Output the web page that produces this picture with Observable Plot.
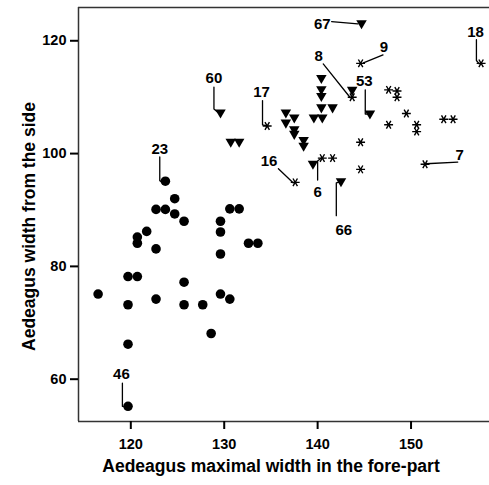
<!DOCTYPE html>
<html><head><meta charset="utf-8">
<script src="https://cdn.jsdelivr.net/npm/d3@7"></script>
<script src="https://cdn.jsdelivr.net/npm/@observablehq/plot@0.6"></script>
<style>body{margin:0;background:#fff}</style>
</head><body><div id="chart"></div>
<script>
// Group 1 (filled circles)
const circleX = [116.5,119.7,120.7,119.7,119.7,119.7,120.7,120.7,121.7,122.7,123.7,123.7,124.7,124.7,125.7,122.7,122.7,125.7,125.7,127.7,128.6,129.6,129.6,129.6,129.6,130.6,130.6,131.6,132.6,133.6];
const circleY = [75.1,78.2,78.2,73.2,66.2,55.2,85.2,84.1,86.2,90.1,90.1,95.1,92.0,89.3,88.0,83.1,74.2,77.2,73.2,73.2,68.1,88.0,86.1,82.2,75.1,74.2,90.2,90.2,84.1,84.1];
// Group 2 (down triangles)
const triX = [144.7,140.4,140.4,140.4,143.7,140.4,141.6,139.6,140.5,136.6,137.5,136.6,137.5,137.5,138.5,138.5,145.6,139.5,142.5,129.6,130.7,131.6];
const triY = [123.1,113.4,111.4,110.2,111.3,108.2,108.2,106.4,106.4,107.3,106.4,105.5,104.3,103.5,102.4,101.4,107.1,98.2,95.1,107.3,102.1,102.1];
// Group 3 (asterisks)
const astX = [144.6,143.7,157.5,147.6,148.5,148.5,149.5,147.6,150.6,150.6,153.5,154.5,134.6,144.6,144.6,151.5,137.6,140.5,141.6];
const astY = [116.0,110.0,116.0,111.3,111.1,110.0,107.1,105.1,105.1,103.9,106.1,106.1,104.9,102.0,97.2,98.1,94.9,99.2,99.2];
// Specimen labels (text placement in data units) and leader lines
const labelText = ["67","9","8","53","18","17","16","6","7","66","60","23","46"];
const labelX = [140.5,147.1,140.1,145.0,156.9,134.0,134.8,140.0,155.2,142.8,128.9,123.1,119.0];
const labelY = [123.0,118.8,117.3,112.9,121.6,110.8,98.7,93.2,99.8,86.5,113.4,100.8,60.9];
const leaderLines = [
  [[141.5,123.4],[144.3,123.0]],
  [[147.0,117.5],[144.9,116.1]],
  [[140.6,115.9],[143.5,109.9]],
  [[145.1,111.3],[145.1,107.0],[145.6,107.0]],
  [[157.0,120.2],[157.0,116.5],[157.3,115.9]],
  [[134.1,109.4],[134.1,105.1],[134.6,104.9]],
  [[135.8,97.3],[137.4,94.8]],
  [[140.0,95.3],[140.0,98.7],[140.4,99.2]],
  [[155.0,98.5],[151.6,98.2]],
  [[142.0,89.0],[142.0,94.8],[142.4,95.0]],
  [[128.9,111.8],[128.9,107.9],[129.4,107.2]],
  [[123.1,99.4],[123.1,95.2],[123.5,94.8]],
  [[119.1,59.3],[119.1,55.2],[119.5,55.1]]
];
const xDomain = [114.4, 158.4];
const yDomain = [52.5, 125.9];
const xTicks = [120,130,140,150];
const yTicks = [60,80,100,120];
const xTitle = "Aedeagus maximal width in the fore-part";
const yTitle = "Aedeagus width from the side";

const circles = circleX.map((x,i)=>({x, y: circleY[i]}));
const tris = triX.map((x,i)=>({x, y: triY[i]}));
const asts = astX.map((x,i)=>({x, y: astY[i]}));
const labels = labelText.map((t,i)=>({t, x: labelX[i], y: labelY[i]}));
const leaders = leaderLines.flatMap((pts,id)=>pts.map(([x,y])=>({id,x,y})));

const font = "'Liberation Sans', Arial, sans-serif";
const chart = Plot.plot({
  width: 489, height: 485,
  marginLeft: 78, marginRight: 0, marginTop: 7, marginBottom: 64,
  style: {fontFamily: font, background: "white", color: "black"},
  x: {domain: xDomain},
  y: {domain: yDomain},
  marks: [
    Plot.ruleY([yDomain[0]], {stroke: "#333", strokeWidth: 1.5}),
    Plot.ruleY([yDomain[1]], {stroke: "#333", strokeWidth: 1.5}),
    Plot.ruleX([xDomain[0]], {stroke: "#333", strokeWidth: 1.5}),
    Plot.axisX({ticks: xTicks, tickSize: 8, tickPadding: 9, fontSize: 14.5, fontWeight: "bold", strokeWidth: 2, label: null, tickFormat: d3.format("d")}),
    Plot.axisY({ticks: yTicks, tickSize: 8, tickPadding: 4, fontSize: 14.5, fontWeight: "bold", strokeWidth: 2, label: null, tickFormat: d3.format("d")}),
    Plot.text([xTitle], {frameAnchor: "bottom", dy: 50, dx: -13, fontSize: 17.5, fontWeight: "bold"}),
    Plot.text([yTitle], {frameAnchor: "left", textAnchor: "middle", dx: -49, dy: 12, rotate: -90, fontSize: 17.5, fontWeight: "bold"}),
    Plot.line(leaders, {x: "x", y: "y", z: "id", stroke: "black", strokeWidth: 1.3}),
    Plot.dot(circles, {x: "x", y: "y", r: 4.8, fill: "black"}),
    Plot.dot(tris, {x: "x", y: "y", symbol: "triangle", rotate: 180, r: 3.9, fill: "black"}),
    Plot.dot(asts, {x: "x", y: "y", symbol: "asterisk", rotate: 90, r: 4.2, stroke: "black", strokeWidth: 1.4}),
    Plot.text(labels, {x: "x", y: "y", text: "t", fontSize: 15, fontWeight: "bold", fill: "black"})
  ]
});
document.getElementById("chart").append(chart);
</script>
</body></html>
